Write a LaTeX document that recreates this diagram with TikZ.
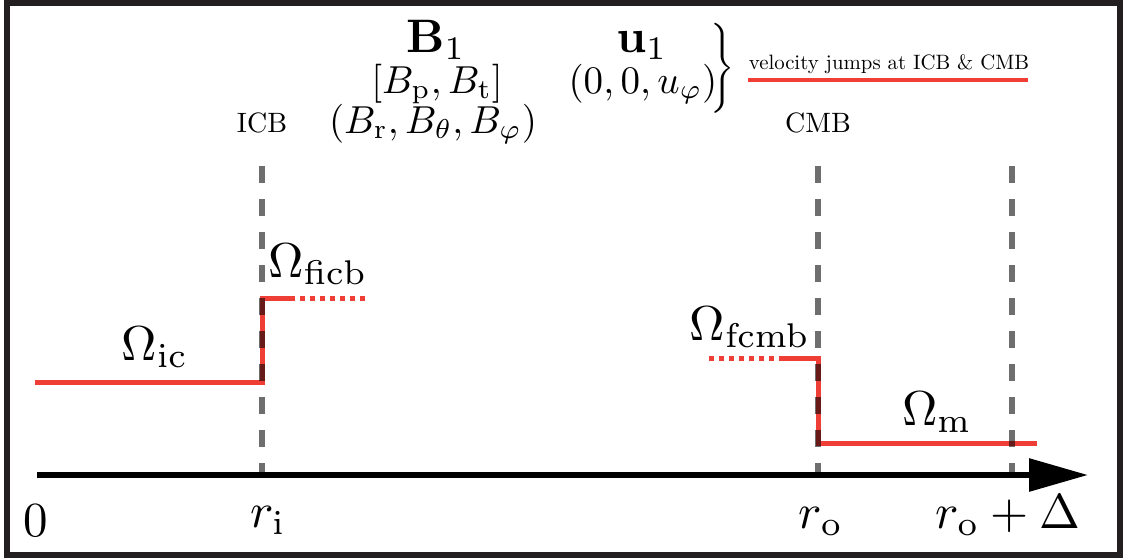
\documentclass[tikz,border=0pt]{standalone}
\usetikzlibrary{arrows.meta}
\usepackage{amsmath}
\definecolor{jred}{RGB}{239,62,54}
\definecolor{framecol}{RGB}{35,31,32}
\begin{document}
\begin{tikzpicture}[x=0.5pt,y=-0.5pt,
  redline/.style={draw=jred,line width=2.5pt},
  reddots/.style={draw=jred,line width=2.5pt,dash pattern=on 2.5pt off 2.5pt},
  bound/.style={draw=black,draw opacity=0.57,line width=2.75pt,dash pattern=on 8.5pt off 8pt},
  txt/.style={inner sep=0pt,font=\fontsize{10}{12}\selectfont,transform shape},
  biglab/.style={txt,anchor=base,scale=2.45},
  boldlab/.style={txt,anchor=base,scale=2.35},
  midlab/.style={txt,scale=1.95},
  boundlab/.style={txt,scale=1.4},
  notelab/.style={txt,scale=1.04}]
\path[use as bounding box] (0,0) rectangle (1123,557);
\draw[framecol,line width=3pt] (7,3) rectangle (1119.5,554.5);

% red rotation profile
\coordinate (ic0) at (35,382);
\coordinate (ic1) at (262,382);
\coordinate (ficb0) at (262,298);
\coordinate (ficb1) at (290,298);
\coordinate (ficb2) at (366,298);
\draw[redline] (ic0) -- (ic1) -- (ficb0) -- (ficb1);
\draw[reddots] (ficb1) -- (ficb2);
\coordinate (fcmb0) at (709,358);
\coordinate (fcmb1) at (783,358);
\coordinate (fcmb2) at (818,358);
\coordinate (m0) at (818,443);
\coordinate (m1) at (1037,443);
\draw[reddots] (fcmb0) -- (fcmb1);
\draw[redline] (fcmb1) -- (fcmb2) -- (m0) -- (m1);

% boundaries
\coordinate (icbT) at (262,166);
\coordinate (icbB) at (262,475);
\coordinate (cmbT) at (818,166);
\coordinate (cmbB) at (818,475);
\coordinate (dT) at (1012,166);
\coordinate (dB) at (1012,475);
\draw[bound] (icbT) -- (icbB);
\draw[bound] (cmbT) -- (cmbB);
\draw[bound] (dT) -- (dB);

% axis
\coordinate (a0) at (37,475);
\coordinate (a1) at (1088,475);
\draw[black,line width=3pt,-{Triangle[length=29.5pt,width=16pt]}] (a0) -- (a1);

% axis labels
\node[biglab] (zero) at (36,536) {$0$};
\node[biglab] (ri) at (268,527) {$r_{\mathrm{i}}$};
\node[biglab] (ro) at (821,528) {$r_{\mathrm{o}}$};
\node[biglab] (rod) at (1008,528) {$r_{\mathrm{o}}+\Delta$};

% rotation labels
\node[biglab] (Oic) at (155,360) {$\Omega_{\mathrm{ic}}$};
\node[biglab] (Oficb) at (318,277) {$\Omega_{\mathrm{ficb}}$};
\node[biglab] (Ofcmb) at (750,340) {$\Omega_{\mathrm{fcmb}}$};
\node[biglab] (Om) at (937,425) {$\Omega_{\mathrm{m}}$};

% boundary names
\node[boundlab] (icb) at (262,123) {ICB};
\node[boundlab] (cmb) at (818,123) {CMB};

% fields
\node[boldlab] (B1) at (436,52) {$\mathbf{B}_1$};
\node[midlab] (Bpt) at (437,84) {$[B_{\mathrm{p}},B_{\mathrm{t}}]$};
\node[midlab] (Brtp) at (433,124) {$(B_{\mathrm{r}},B_{\theta},B_{\varphi})$};
\node[boldlab] (u1) at (642,52) {$\mathbf{u}_1$};
\node[midlab] (uphi) at (643,84) {$(0,0,u_{\varphi})$};
\node[txt,scale=1.5] (brace) at (723,68) {$\Biggr\}$};
\node[notelab] (vj) at (889,64) {velocity jumps at ICB \& CMB};
\coordinate (vl0) at (748,80);
\coordinate (vl1) at (1028,80);
\draw[jred,line width=2pt] (vl0) -- (vl1);
\end{tikzpicture}
\end{document}
